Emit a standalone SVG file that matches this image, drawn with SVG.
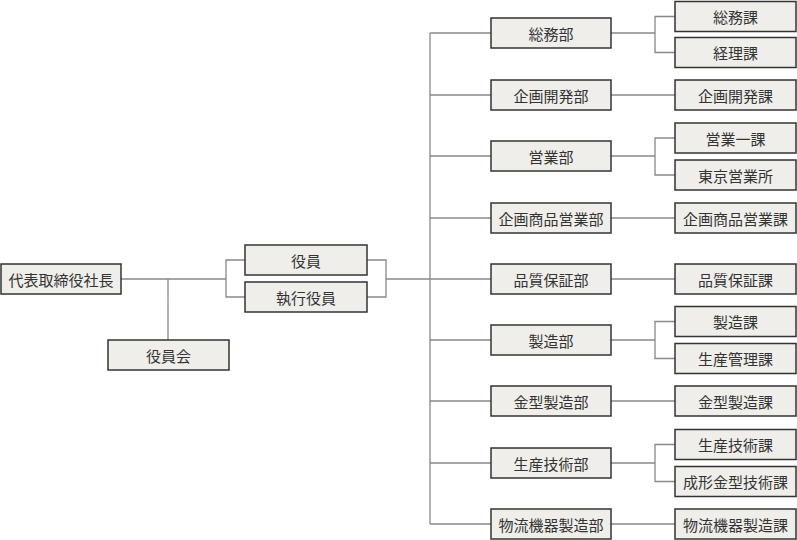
<svg xmlns="http://www.w3.org/2000/svg" width="797" height="540" viewBox="0 0 797 540">
<style>
.box{fill:#efeeea;stroke:#333;stroke-width:1.5}
.t{font-family:"Noto Sans CJK JP","Noto Sans",sans-serif;font-size:15px;fill:#333;text-anchor:middle;dominant-baseline:central}
.c{fill:none;stroke:#888;stroke-width:1.3}
</style>
<rect width="797" height="540" fill="#fff"/>
<g id="connectors" class="c">
<path d="M121 279H226M168 279V340M245 260H226V297H245M367 260H386V297H367M386 279H430"/>
<path d="M430 33V524"/>
<path d="M430 33H491M430 95H491M430 156H491M430 218H491M430 279H491M430 340H491M430 401H491M430 463H491M430 524H491"/>
<path d="M611 33H655M675 16.5H655V52.5H675"/>
<path d="M611 95H675"/>
<path d="M611 156H655M675 138H655V175H675"/>
<path d="M611 218H675"/>
<path d="M611 279H675"/>
<path d="M611 340H655M675 321.5H655V358.5H675"/>
<path d="M611 401H675"/>
<path d="M611 463H655M675 444.5H655V481.5H675"/>
<path d="M611 524H675"/>
</g>
<g id="n-president"><rect class="box" x="1" y="264" width="120" height="30"/><text class="t" x="61" y="279">代表取締役社長</text></g>
<g id="n-board"><rect class="box" x="108" y="340" width="121" height="30"/><text class="t" x="168.5" y="355">役員会</text></g>
<g id="n-officers"><rect class="box" x="245" y="245" width="122" height="30"/><text class="t" x="306" y="260">役員</text></g>
<g id="n-exec"><rect class="box" x="245" y="282" width="122" height="30"/><text class="t" x="306" y="297">執行役員</text></g>

<g id="d-somu"><rect class="box" x="491" y="18" width="120" height="30"/><text class="t" x="551" y="33">総務部</text></g>
<g id="d-kikaku"><rect class="box" x="491" y="80" width="120" height="30"/><text class="t" x="551" y="95">企画開発部</text></g>
<g id="d-eigyo"><rect class="box" x="491" y="141" width="120" height="30"/><text class="t" x="551" y="156">営業部</text></g>
<g id="d-kikakushohin"><rect class="box" x="491" y="203" width="120" height="30"/><text class="t" x="551" y="218">企画商品営業部</text></g>
<g id="d-hinshitsu"><rect class="box" x="491" y="264" width="120" height="30"/><text class="t" x="551" y="279">品質保証部</text></g>
<g id="d-seizo"><rect class="box" x="491" y="325" width="120" height="30"/><text class="t" x="551" y="340">製造部</text></g>
<g id="d-kanagata"><rect class="box" x="491" y="386" width="120" height="30"/><text class="t" x="551" y="401">金型製造部</text></g>
<g id="d-seisangijutsu"><rect class="box" x="491" y="448" width="120" height="30"/><text class="t" x="551" y="463">生産技術部</text></g>
<g id="d-butsuryu"><rect class="box" x="491" y="509" width="120" height="30"/><text class="t" x="551" y="524">物流機器製造部</text></g>

<g id="s-somuka"><rect class="box" x="675" y="1.5" width="121" height="30"/><text class="t" x="735.5" y="16.5">総務課</text></g>
<g id="s-keiri"><rect class="box" x="675" y="37.5" width="121" height="30"/><text class="t" x="735.5" y="52.5">経理課</text></g>
<g id="s-kikakuka"><rect class="box" x="675" y="80" width="121" height="30"/><text class="t" x="735.5" y="95">企画開発課</text></g>
<g id="s-eigyo1"><rect class="box" x="675" y="123" width="121" height="30"/><text class="t" x="735.5" y="138">営業一課</text></g>
<g id="s-tokyo"><rect class="box" x="675" y="160" width="121" height="30"/><text class="t" x="735.5" y="175">東京営業所</text></g>
<g id="s-kikakushohinka"><rect class="box" x="675" y="203" width="121" height="30"/><text class="t" x="735.5" y="218">企画商品営業課</text></g>
<g id="s-hinshitsuka"><rect class="box" x="675" y="264" width="121" height="30"/><text class="t" x="735.5" y="279">品質保証課</text></g>
<g id="s-seizoka"><rect class="box" x="675" y="306.5" width="121" height="30"/><text class="t" x="735.5" y="321.5">製造課</text></g>
<g id="s-seisankanri"><rect class="box" x="675" y="343.5" width="121" height="30"/><text class="t" x="735.5" y="358.5">生産管理課</text></g>
<g id="s-kanagataka"><rect class="box" x="675" y="386" width="121" height="30"/><text class="t" x="735.5" y="401">金型製造課</text></g>
<g id="s-seisangijutsuka"><rect class="box" x="675" y="429.5" width="121" height="30"/><text class="t" x="735.5" y="444.5">生産技術課</text></g>
<g id="s-seikei"><rect class="box" x="675" y="466.5" width="121" height="30"/><text class="t" x="735.5" y="481.5">成形金型技術課</text></g>
<g id="s-butsuryuka"><rect class="box" x="675" y="509" width="121" height="30"/><text class="t" x="735.5" y="524">物流機器製造課</text></g>
</svg>
